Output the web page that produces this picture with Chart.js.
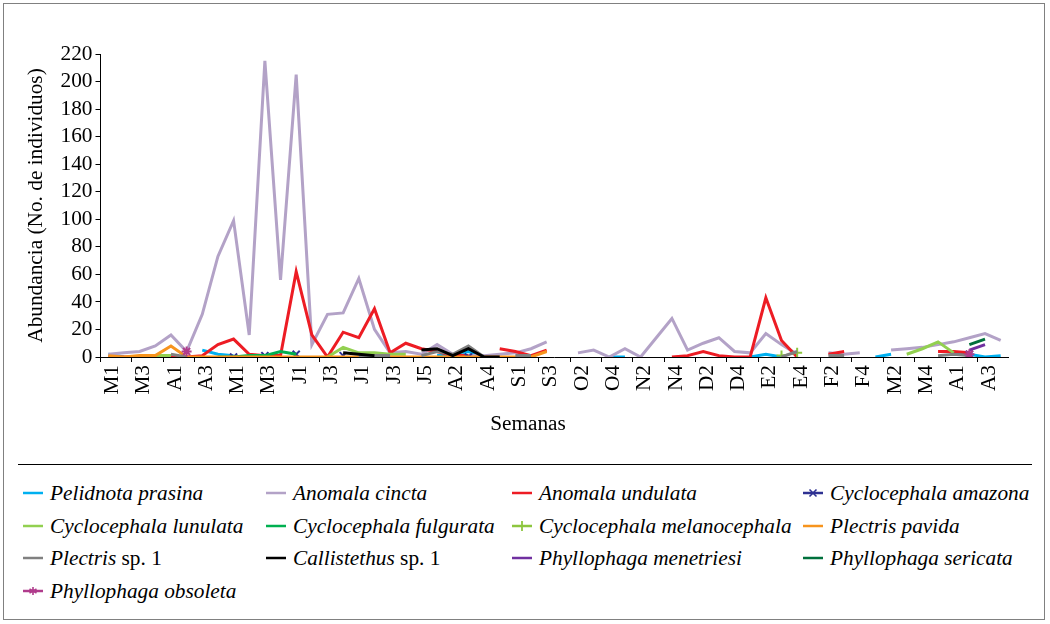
<!DOCTYPE html>
<html><head><meta charset="utf-8">
<script src="https://cdn.jsdelivr.net/npm/chart.js@4.4.1/dist/chart.umd.min.js"></script>
<style>
body{margin:0;width:1050px;height:624px;background:#fff;position:relative;overflow:hidden;}
#frame{position:absolute;left:3px;top:3px;width:1042px;height:617px;border:1.5px solid #808080;box-sizing:border-box}
#wrap{position:absolute;left:0;top:0;width:1050px;height:460px}
#sep{position:absolute;left:18px;top:464px;width:1014px;height:0;border-top:1.5px solid #000}
#xt{position:absolute;top:411px;left:428px;width:200px;text-align:center;line-height:24px}
.lg{position:absolute;font-style:italic;white-space:nowrap;line-height:24px}
.lg svg{position:absolute;left:-27px;top:2px}
.n{font-style:normal}
</style></head><body>
<div id="frame"></div>
<div id="wrap"><canvas id="c" width="1050" height="460"></canvas></div>
<div id="xt">Semanas</div>
<div id="sep"></div>
<div id="legend"></div>
<script>
const n = null;
const weeks = ["M1","M2","M3","M4","A1","A2","A3","A4","M1","M2","M3","M4","J1","J2","J3","J4","J1","J2","J3","J4","J5","A1","A2","A3","A4","A5","S1","S2","S3","O1","O2","O3","O4","N1","N2","N3","N4","D1","D2","D3","D4","E1","E2","E3","E4","F1","F2","F3","F4","M1","M2","M3","M4","M5","A1","A2","A3","A4"];
const yTicks = [0,20,40,60,80,100,120,140,160,180,200,220];

const pelidnotaPrasina = [2,0,n,n,n,n,5,2,1,n, n,n,n,n,n,n,n,n,n,n, n,1,1,4,0,n,n,n,n,n, n,n,0,0,n,n,n,n,n,n, n,0,2,0,n,n,n,n,n,0, 2,n,n,n,2,2,0,1];
const anomalaCincta = [2,3,4,8,16,4,31,73,99,16, 215,56,205,9,31,32,57,20,3,4, 2,9,2,1,1,2,3,6,11,n, 3,5,0,6,0,14,28,5,10,14, 4,3,17,9,2,n,3,2,3,n, 5,6,7,9,11,14,17,12];
const anomalaUndulata = [0,0,0,0,0,0,1,9,13,2, 1,1,62,16,0,18,14,35,3,10, 6,4,1,1,n,6,4,1,5,n, n,n,n,n,n,n,0,1,4,1, 0,0,43,12,0,n,2,4,n,n, n,n,n,4,4,3,n,n];
const cyclocephalaAmazona = [n,n,n,n,n,n,n,n,0,n, 1,n,2,n,n,1,n,0,n,n, n,n,n,0,n,n,n,n,n,n, n,n,n,n,n,n,n,n,n,n, n,n,n,n,n,n,n,n,n,n, n,n,n,n,n,2,n,n];
const cyclocephalaLunulata = [n,n,1,1,1,n,n,n,n,n, n,n,n,n,0,7,3,3,2,2, n,n,n,n,n,n,n,n,n,n, n,n,n,n,n,n,n,n,n,n, n,n,n,n,n,n,n,n,n,n, n,2,6,11,3,n,n,n];
const cyclocephalaFulgurata = [n,n,n,n,n,n,n,0,0,1, 1,4,2,n,n,n,n,n,n,n, n,n,n,n,n,n,n,n,n,n, n,n,n,n,n,n,n,n,n,n, n,n,n,n,n,n,n,n,n,n, n,n,n,n,n,n,n,n];
const cyclocephalaMelanocephala = [n,n,n,n,n,n,n,n,n,n, n,n,n,n,n,n,n,n,n,n, n,n,n,n,n,n,n,n,n,n, n,n,n,n,n,n,n,n,n,n, n,n,n,1,3,n,n,n,n,n, n,n,n,n,n,n,n,n];
const plectrisPavida = [1,0,1,1,8,0,0,0,0,0, 0,0,0,0,0,0,0,0,0,0, 0,0,0,0,0,0,0,0,4,n, n,n,n,n,n,n,n,n,n,n, n,n,n,n,n,n,n,n,n,n, n,n,n,n,n,n,n,n];
const plectrisSp1 = [n,n,n,n,2,0,n,n,n,n, n,n,n,n,n,n,1,1,1,n, 1,4,2,8,0,n,1,1,n,n, n,n,n,n,n,n,n,n,n,n, n,n,n,0,4,n,1,1,n,n, n,n,n,1,2,1,n,n];
const callistethusSp1 = [n,n,n,n,n,n,n,n,n,n, n,n,n,n,n,3,2,1,n,n, 5,6,1,6,0,0,n,n,n,n, n,n,n,n,n,n,n,n,n,n, n,n,n,n,n,n,n,n,n,n, n,n,n,n,n,n,n,n];
const phyllophagaMenetriesi = [n,n,n,n,n,n,n,n,n,n, n,n,n,n,n,n,n,n,n,n, n,n,n,n,n,n,n,n,n,n, n,n,n,n,n,n,n,n,n,n, n,n,n,n,n,n,n,n,n,n, n,n,n,n,n,5,9,n];
const phyllophagaSericata = [n,n,n,n,n,n,n,n,n,n, n,n,n,n,n,n,n,n,n,n, n,n,n,n,n,n,n,n,n,n, n,n,n,n,n,n,n,n,n,n, n,n,n,n,n,n,n,n,n,n, n,n,n,n,n,9,13,n];
const phyllophagaObsoleta = [n,n,n,n,n,4,n,n,n,n, n,n,n,n,n,n,n,n,n,n, n,n,n,n,n,n,n,n,n,n, n,n,n,n,n,n,n,n,n,n, n,n,n,n,n,n,n,n,n,n, n,n,n,n,n,2,n,n];

const seriesNames = ["Pelidnota prasina","Anomala cincta","Anomala undulata","Cyclocephala amazona","Cyclocephala lunulata","Cyclocephala fulgurata","Cyclocephala melanocephala","Plectris pavida","Plectris sp. 1","Callistethus sp. 1","Phyllophaga menetriesi","Phyllophaga sericata","Phyllophaga obsoleta"];
const seriesData = [pelidnotaPrasina,anomalaCincta,anomalaUndulata,cyclocephalaAmazona,cyclocephalaLunulata,cyclocephalaFulgurata,cyclocephalaMelanocephala,plectrisPavida,plectrisSp1,callistethusSp1,phyllophagaMenetriesi,phyllophagaSericata,phyllophagaObsoleta];
const seriesColors = ["#00B0F0","#B3A2C7","#ED1C24","#2E3192","#92D050","#00B050","#8DC63F","#F7941D","#808080","#000000","#7030A0","#00703C","#B03C8C"];
const seriesMarkers = [null,null,null,"crossRot",null,null,"cross",null,null,null,null,null,"star"];

// pick an installed serif face and scale it so text widths match the Times-like original
const probe = document.createElement('canvas').getContext('2d');
const sample = 'Abundancia (No. de individuos)';
function width(f){ probe.font = f; return probe.measureText(sample).width; }
const baseMono = width('40px monospace');
const candidates = ['Liberation Serif','Tinos','Times New Roman','Nimbus Roman','Noto Serif','DejaVu Serif'];
let FAMILY = 'serif';
for (const c of candidates){ if (width(`40px "${c}", monospace`) !== baseMono){ FAMILY = c; break; } }
const FSIZE = Math.min(22, Math.round(21 * 275 / width(`21px "${FAMILY}", serif`) * 10) / 10);
const FONTSTACK = `"${FAMILY}", serif`;
document.body.style.fontFamily = FONTSTACK;
document.body.style.fontSize = FSIZE + 'px';

Chart.defaults.font.family = FONTSTACK;
Chart.defaults.font.size = FSIZE;
Chart.defaults.color = "#000";

const datasets = seriesNames.map((name,i)=>({
  label:name,
  data:seriesData[i],
  borderColor:seriesColors[i],
  backgroundColor:seriesColors[i],
  borderWidth: seriesMarkers[i] ? 2 : 3,
  pointRadius: seriesMarkers[i] ? 5 : 0,
  pointStyle: seriesMarkers[i] || 'circle',
  pointBorderWidth: 2,
  pointHoverRadius: 0,
  tension:0,
  spanGaps:false,
  order:-i
}));

new Chart(document.getElementById('c'),{
  type:'line',
  data:{labels:weeks,datasets},
  options:{
    responsive:false,animation:false,devicePixelRatio:1,
    layout:{padding:{left:0,right:41.5,top:54,bottom:0}},
    plugins:{legend:{display:false},tooltip:{enabled:false}},
    scales:{
      x:{
        offset:true,
        afterFit:(s)=>{s.height=103;},
        grid:{offset:true,drawOnChartArea:false,drawTicks:true,tickLength:5,
          color:(ctx)=>ctx.index%2===0?'#000':'rgba(0,0,0,0)'},
        border:{color:'#000',width:1},
        ticks:{autoSkip:false,minRotation:90,maxRotation:90,padding:3,labelOffset:4,
          color:'#000',
          callback:(v,i)=>i%2===0?weeks[i]:''}
      },
      y:{
        min:0,max:220,
        afterFit:(s)=>{s.width=100.5;},
        afterBuildTicks:(s)=>{s.ticks=yTicks.map(v=>({value:v}));},
        grid:{drawOnChartArea:false,drawTicks:true,tickLength:5,color:'#000'},
        border:{color:'#000',width:1},
        ticks:{autoSkip:false,padding:3,color:'#000'},
        title:{display:true,text:'Abundancia (No. de individuos)',color:'#000',padding:{top:24,bottom:0}}
      }
    }
  }
});

// HTML legend
const colX = [50,293,539,830];
const rowY = [481,514,546,579];
const leg = document.getElementById('legend');
seriesNames.forEach((name,i)=>{
  const d = document.createElement('div');
  d.className='lg';
  d.style.left = colX[i%4]+'px';
  d.style.top = rowY[Math.floor(i/4)]+'px';
  const c = seriesColors[i];
  let mk='';
  if(seriesMarkers[i]==='crossRot') mk=`<path d="M6.5 6.5L13.5 13.5M13.5 6.5L6.5 13.5" stroke="${c}" stroke-width="1.6"/>`;
  if(seriesMarkers[i]==='cross') mk=`<path d="M10 5V15" stroke="${c}" stroke-width="1.8"/>`;
  if(seriesMarkers[i]==='star') mk=`<path d="M10 6V14M6.5 8L13.5 12M13.5 8L6.5 12" stroke="${c}" stroke-width="1.6"/>`;
  const svg = `<svg width="20" height="20"><line x1="0" y1="10" x2="20" y2="10" stroke="${c}" stroke-width="2.5"/>${mk}</svg>`;
  let txt = name;
  if(name.endsWith(' sp. 1')) txt = name.replace(' sp. 1','') + '<span class="n"> sp. 1</span>';
  d.innerHTML = svg + txt;
  leg.appendChild(d);
});
</script>
</body></html>
